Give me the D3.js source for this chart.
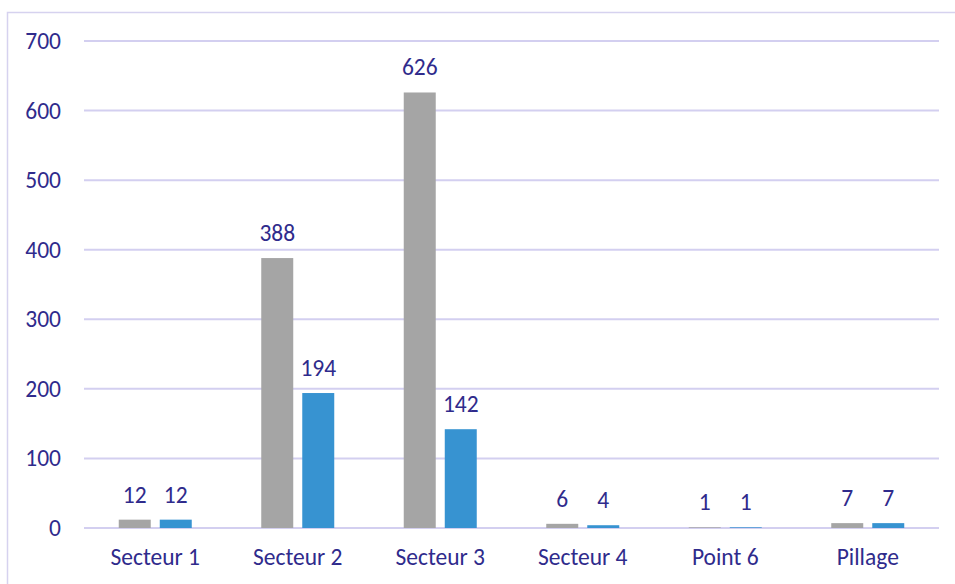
<!DOCTYPE html>
<html>
<head>
<meta charset="utf-8">
<script src="https://cdn.jsdelivr.net/npm/d3@7"></script>
<style>
  body { margin: 0; background: #fff; }
  svg { display: block; font-family: Calibri, Carlito, "Open Sans", sans-serif; }
</style>
</head>
<body>
<div id="container"></div>
<script>
// chart data
var categories = ["Secteur 1", "Secteur 2", "Secteur 3", "Secteur 4", "Point 6", "Pillage"];
var seriesA = [12, 388, 626, 6, 1, 7];   // grey
var seriesB = [12, 194, 142, 4, 1, 7];   // blue
var yTicks = [0, 100, 200, 300, 400, 500, 600, 700];

var w = 955, h = 584;
var textColor = "#2f2b8c";
var fontSize = 23.5;

var svg = d3.select("div#container")
  .append("svg")
  .attr("width", w)
  .attr("height", h);

// outer frame
svg.append("rect")
  .attr("x", 7.5).attr("y", 12.5)
  .attr("width", w).attr("height", h)
  .attr("fill", "none")
  .attr("stroke", "#d6d2ef")
  .attr("stroke-width", 1.5);

var x0 = d3.scaleBand()
  .domain(categories)
  .range([84, 939]);

var x1 = d3.scaleBand()
  .domain([0, 1])
  .range([x0.bandwidth() / 2 - 36.5, x0.bandwidth() / 2 + 36.5])
  .paddingInner(0.22);

var y = d3.scaleLinear()
  .domain([0, 700])
  .range([528, 41]);

// gridlines
svg.append("g")
  .selectAll("line")
  .data(yTicks)
  .enter().append("line")
  .attr("x1", 84).attr("x2", 939)
  .attr("y1", function(d) { return y(d); })
  .attr("y2", function(d) { return y(d); })
  .attr("stroke", "#d3cff0")
  .attr("stroke-width", 2);

// y axis labels
var yAxis = svg.append("g")
  .attr("transform", "translate(61,0)")
  .call(d3.axisLeft(y).tickValues(yTicks).tickSize(0).tickPadding(0));
yAxis.select(".domain").remove();
yAxis.selectAll("text")
  .attr("fill", textColor)
  .attr("font-size", fontSize)
  .attr("font-family", "Calibri, Carlito, 'Open Sans', sans-serif");

// x axis labels
var xAxis = svg.append("g")
  .attr("transform", "translate(0,528)")
  .call(d3.axisBottom(x0).tickSize(0).tickPadding(20));
xAxis.select(".domain").remove();
xAxis.selectAll("text")
  .attr("fill", textColor)
  .attr("font-size", fontSize)
  .attr("font-family", "Calibri, Carlito, 'Open Sans', sans-serif");

var colors = ["#a5a5a5", "#3793d1"];
var series = [seriesA, seriesB];

var groups = svg.append("g")
  .selectAll("g")
  .data(categories)
  .enter().append("g")
  .attr("transform", function(d) { return "translate(" + x0(d) + ",0)"; });

series.forEach(function(vals, si) {
  groups.append("rect")
    .attr("x", x1(si))
    .attr("width", x1.bandwidth())
    .attr("y", function(d, i) { return y(vals[i]); })
    .attr("height", function(d, i) { return y(0) - y(vals[i]); })
    .attr("fill", colors[si]);

  groups.append("text")
    .attr("x", x1(si) + x1.bandwidth() / 2)
    .attr("y", function(d, i) { return y(vals[i]) - 17; })
    .attr("text-anchor", "middle")
    .attr("fill", textColor)
    .attr("font-size", fontSize)
    .text(function(d, i) { return vals[i]; });
});
</script>
</body>
</html>
